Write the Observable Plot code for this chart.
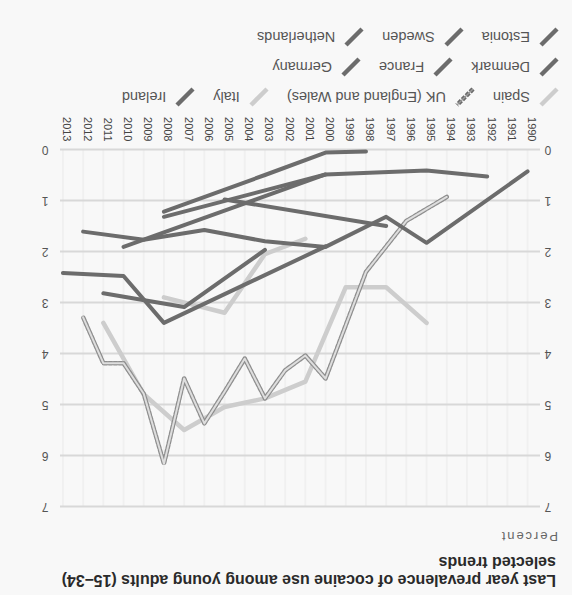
<!DOCTYPE html>
<html>
<head>
<meta charset="utf-8">
<script src="https://cdn.jsdelivr.net/npm/d3@7"></script>
<script src="https://cdn.jsdelivr.net/npm/@observablehq/plot@0.6"></script>
<style>
html, body { margin: 0; padding: 0; background: #f7f7f7; }
#page { position: relative; width: 572px; height: 595px; overflow: hidden;
  transform: rotate(180deg); background: #f8f8f8;
  font-family: "Liberation Sans", Arial, sans-serif; }
#title { position: absolute; left: 16px; top: 6px; font-weight: bold; font-size: 16px;
  line-height: 18px; color: #2a2a2a; white-space: nowrap; }
#unit { position: absolute; left: 14px; top: 51px; font-size: 13px; letter-spacing: 1.9px; color: #666; }
#chart { position: absolute; left: 0; top: 76px; }
#legend { position: absolute; left: 12px; top: 483px; font-size: 14.5px; color: #555; }
.row { display: flex; align-items: center; gap: 17px; height: 30px; }
.item { display: flex; align-items: center; gap: 8px; }
.item svg { display: block; }
</style>
</head>
<body>
<div id="page">
  <div id="title">Last year prevalence of cocaine use among young adults (15–34)<br>selected trends</div>
  <div id="unit">Percent</div>
  <div id="chart"></div>
  <div id="legend"></div>
</div>
<script>
// ---- tick labels ----
const tickYears = [1990,1991,1992,1993,1994,1995,1996,1997,1998,1999,2000,2001,2002,2003,2004,2005,2006,2007,2008,2009,2010,2011,2012,2013];
const yTicks = [0,1,2,3,4,5,6,7];

// ---- legend rows ----
const legendRow1 = ["Spain", "UK (England and Wales)", "Italy", "Ireland"];
const legendRow2 = ["Denmark", "France", "Germany"];
const legendRow3 = ["Estonia", "Sweden", "Netherlands"];

// ---- series (year / percent) ----
const spainYears = [1995,1997,1999,2001,2003,2005,2007,2009,2011];
const spainValues = [3.4,2.7,2.7,4.55,4.88,5.05,5.5,4.8,3.4];

const ukYears = [1994,1996,1998,2000,2001,2002,2003,2004,2005,2006,2007,2008,2009,2010,2011,2012];
const ukValues = [0.93,1.4,2.4,4.49,4.04,4.33,4.88,4.1,4.75,5.37,4.49,6.16,4.79,4.19,4.19,3.29];

const italyYears = [2001,2003,2005,2008];
const italyValues = [1.75,2.05,3.2,2.9];

const irelandYears = [2003,2007,2011];
const irelandValues = [1.97,3.09,2.82];

const denmarkYears = [2000,2008,2010,2013];
const denmarkValues = [1.9,3.4,2.48,2.42];

const franceYears = [1992,1995,2000,2005,2010];
const franceValues = [0.53,0.41,0.49,1.2,1.91];

const germanyYears = [1990,1995,1997,2000,2003,2006,2009,2012];
const germanyValues = [0.43,1.83,1.32,1.91,1.8,1.58,1.77,1.61];

const estoniaYears = [1998,2000,2003,2008];
const estoniaValues = [0.04,0.06,0.5,1.22];

const swedenYears = [2000,2008];
const swedenValues = [0.49,1.32];

const netherlandsYears = [1997,2005];
const netherlandsValues = [1.5,0.98];

function rows(country, years, values) {
  return years.map((year, i) => ({country, year, value: values[i]}));
}
const light = [
  ...rows("Spain", spainYears, spainValues),
  ...rows("Italy", italyYears, italyValues)
];
const dark = [
  ...rows("Ireland", irelandYears, irelandValues),
  ...rows("Denmark", denmarkYears, denmarkValues),
  ...rows("France", franceYears, franceValues),
  ...rows("Germany", germanyYears, germanyValues),
  ...rows("Estonia", estoniaYears, estoniaValues),
  ...rows("Sweden", swedenYears, swedenValues),
  ...rows("Netherlands", netherlandsYears, netherlandsValues)
];
const uk = rows("UK (England and Wales)", ukYears, ukValues);

const LIGHT = "#cdcdcd", DARK = "#6c6c6c";

const chart = Plot.plot({
  width: 572,
  height: 420,
  marginLeft: 32,
  marginRight: 60,
  marginTop: 12,
  marginBottom: 51,
  style: {fontFamily: "Liberation Sans, Arial, sans-serif", fontSize: "12px", color: "#555", background: "transparent"},
  x: {domain: [1989.41, 2013.17]},
  y: {domain: [0, 7]},
  marks: [
    Plot.ruleX(tickYears, {y1: 0, y2: 7, stroke: "#000", strokeOpacity: 0.03, strokeWidth: 2}),
    Plot.ruleY(yTicks, {stroke: "#d8d8d8", strokeWidth: 2}),
    Plot.line(light, {x: "year", y: "value", z: "country", stroke: LIGHT, strokeWidth: 4.5}),
    Plot.line(uk, {x: "year", y: "value", stroke: "#8e8e8e", strokeWidth: 4.5, strokeDasharray: "3,2"}),
    Plot.line(uk, {x: "year", y: "value", stroke: "#dedede", strokeWidth: 2}),
    Plot.line(dark, {x: "year", y: "value", z: "country", stroke: DARK, strokeWidth: 4}),
    Plot.axisX({ticks: tickYears, tickFormat: d => String(d), tickRotate: -90, tickSize: 0, tickPadding: 8, dx: -4, fontSize: 11, fill: "#444", label: null}),
    Plot.axisY({anchor: "left", ticks: yTicks, tickFormat: d => String(d), tickSize: 0, tickPadding: 5, fontSize: 12, fill: "#555", label: null}),
    Plot.axisY({anchor: "right", ticks: yTicks, tickFormat: d => String(d), tickSize: 0, tickPadding: 11, fontSize: 12, fill: "#555", label: null})
  ]
});
document.getElementById("chart").appendChild(chart);

// legend
const lightSet = new Set(["Spain", "Italy"]);
function swatch(name) {
  const ns = "http://www.w3.org/2000/svg";
  const s = document.createElementNS(ns, "svg");
  s.setAttribute("width", 22); s.setAttribute("height", 22);
  const mk = (stroke, w, dash) => {
    const l = document.createElementNS(ns, "line");
    l.setAttribute("x1", 3); l.setAttribute("y1", 19); l.setAttribute("x2", 19); l.setAttribute("y2", 3);
    l.setAttribute("stroke", stroke); l.setAttribute("stroke-width", w);
    if (dash) l.setAttribute("stroke-dasharray", dash);
    s.appendChild(l);
  };
  if (name.startsWith("UK")) { mk("#6a6a6a", 4.5, "4,1.5"); mk("#9a9a9a", 1.5); }
  else mk(lightSet.has(name) ? LIGHT : DARK, 4.5);
  return s;
}
const legend = document.getElementById("legend");
for (const r of [legendRow1, legendRow2, legendRow3]) {
  const row = document.createElement("div"); row.className = "row";
  for (const name of r) {
    const it = document.createElement("div"); it.className = "item";
    it.appendChild(swatch(name));
    const t = document.createElement("span"); t.textContent = name;
    it.appendChild(t); row.appendChild(it);
  }
  legend.appendChild(row);
}
</script>
</body>
</html>
